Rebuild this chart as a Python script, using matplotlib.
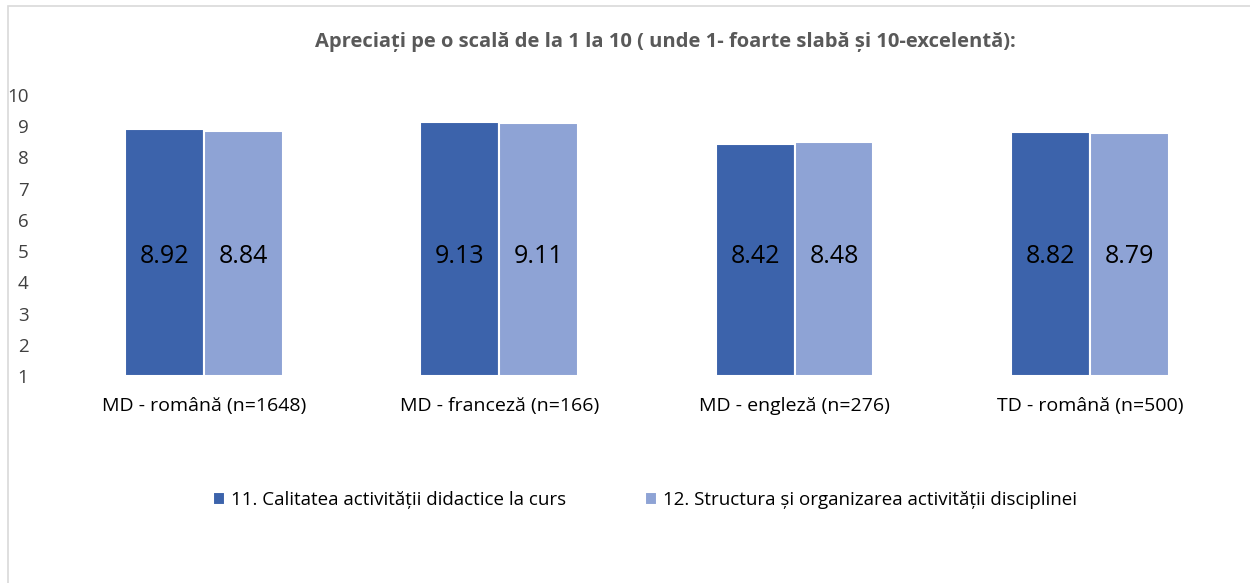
import matplotlib
matplotlib.use("Agg")
import matplotlib.pyplot as plt
import numpy as np
from matplotlib.patches import Rectangle

plt.rcParams['font.family'] = ['Open Sans', 'DejaVu Sans']

categories = ["MD - română (n=1648)", "MD - franceză (n=166)", "MD - engleză (n=276)", "TD - română (n=500)"]
series_names = ["11. Calitatea activității didactice la curs",
                "12. Structura și organizarea activității disciplinei"]
s1 = [8.92, 9.13, 8.42, 8.82]
s2 = [8.84, 9.11, 8.48, 8.79]
yticks = [1, 2, 3, 4, 5, 6, 7, 8, 9, 10]
title = "Apreciați pe o scală de la 1 la 10 ( unde 1- foarte slabă și 10-excelentă):"

c1 = "#3C63AB"
c2 = "#8EA3D5"

fig = plt.figure(figsize=(12.5, 5.83), dpi=100)
ax = fig.add_axes([0.045, 0.355, 0.945, 0.482])

x = np.arange(len(categories))
w = 0.267
base = 1
ax.bar(x - w/2, np.array(s1) - base, w, bottom=base, color=c1, edgecolor="white", linewidth=1.5, label=series_names[0])
ax.bar(x + w/2, np.array(s2) - base, w, bottom=base, color=c2, edgecolor="white", linewidth=1.5, label=series_names[1])

for i in range(len(categories)):
    ax.text(x[i] - w/2, 4.82, f"{s1[i]:.2f}", ha="center", va="center", fontsize=18, color="black")
    ax.text(x[i] + w/2, 4.82, f"{s2[i]:.2f}", ha="center", va="center", fontsize=18, color="black")

ax.set_xlim(-0.5, len(categories) - 0.5)
ax.set_ylim(1, 10)
ax.set_yticks(yticks)
ax.set_yticklabels([str(t) for t in yticks], fontsize=13.5, color="#404040")
ax.set_xticks(x)
ax.set_xticklabels(categories, fontsize=14, color="black")
ax.tick_params(axis="y", length=0, pad=20)
ax.tick_params(axis="x", length=0, pad=15)
for s in ax.spines.values():
    s.set_visible(False)

fig.text(0.532, 0.928, title, ha="center", va="center", fontsize=14.5, fontweight="bold", color="#595959")

fig.legend(loc="center", bbox_to_anchor=(0.516, 0.142), ncol=2, frameon=False,
           fontsize=13.5, handlelength=0.65, handleheight=0.65, columnspacing=4.2, handletextpad=0.3)

fig.patches.append(Rectangle((8/1250, -0.1), 1.1, 1 - 6/583 + 0.1, transform=fig.transFigure,
                             fill=False, edgecolor="#d9d9d9", linewidth=1.2))

fig.savefig("out.png", dpi=100, facecolor="white")
